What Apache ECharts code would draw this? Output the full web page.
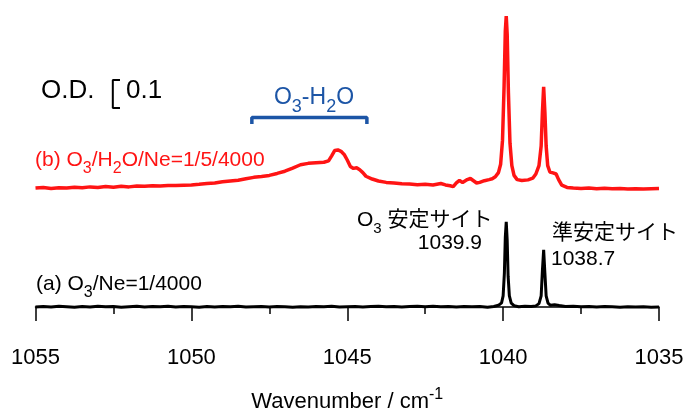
<!DOCTYPE html>
<html>
<head>
<meta charset="utf-8">
<script src="https://cdn.jsdelivr.net/npm/echarts@6/dist/echarts.min.js"></script>
<style>
html,body{margin:0;padding:0;background:#fff;}
#chart{width:686px;height:410px;}
</style>
</head>
<body>
<div id="chart"></div>
<script>
// ---- data ----
const xTicks = [1055, 1050, 1045, 1040, 1035];
const peakLabels = ['1039.9', '1038.7'];
const redOffset = 0.425;
// (a) O3/Ne = 1/4000  [wavenumber, O.D.]
const spectrumA = [
[1055.0,0.000],[1054.75,0.002],[1054.5,0.000],[1054.25,0.003],[1054.0,0.001],[1053.75,-0.001],
[1053.5,0.002],[1053.25,0.000],[1053.0,0.003],[1052.75,0.001],[1052.5,0.002],[1052.25,-0.001],
[1052.0,0.001],[1051.75,0.003],[1051.5,0.000],[1051.25,0.002],[1051.0,0.001],[1050.75,0.003],
[1050.5,0.000],[1050.25,0.002],[1050.0,0.001],[1049.75,-0.001],[1049.5,0.002],[1049.25,0.000],
[1049.0,0.002],[1048.75,0.001],[1048.5,0.003],[1048.25,0.000],[1048.0,0.001],[1047.75,0.002],
[1047.5,0.000],[1047.25,0.002],[1047.0,0.001],[1046.75,-0.001],[1046.5,0.001],[1046.25,0.000],
[1046.0,0.002],[1045.75,0.001],[1045.5,0.003],[1045.25,0.000],[1045.0,0.001],[1044.75,0.002],
[1044.5,0.000],[1044.25,0.002],[1044.0,0.003],[1043.75,0.001],[1043.5,0.002],[1043.25,0.000],
[1043.0,0.002],[1042.75,0.003],[1042.5,0.001],[1042.25,0.003],[1042.0,0.001],[1041.75,0.002],
[1041.5,0.000],[1041.25,0.002],[1041.0,0.001],[1040.75,0.002],[1040.5,-0.001],[1040.3,0.002],
[1040.15,0.006],[1040.05,0.015],[1040.0,0.04],[1039.96,0.12],[1039.93,0.25],[1039.9,0.304],
[1039.87,0.24],[1039.84,0.11],[1039.8,0.04],[1039.74,0.014],[1039.65,0.005],[1039.5,0.001],
[1039.3,0.003],[1039.1,0.002],[1038.95,0.004],[1038.85,0.012],[1038.78,0.04],[1038.74,0.13],
[1038.7,0.204],[1038.66,0.12],[1038.62,0.04],[1038.56,0.014],[1038.48,0.006],[1038.35,0.008],
[1038.2,0.005],[1038.0,0.002],[1037.75,0.003],[1037.5,0.001],[1037.25,0.002],[1037.0,0.000],
[1036.75,0.002],[1036.5,0.001],[1036.25,-0.001],[1036.0,0.001],[1035.75,0.000],[1035.5,0.001],
[1035.25,-0.001],[1035.0,0.000]
];
// (b) O3/H2O/Ne = 1/5/4000  [wavenumber, O.D.]
const spectrumB = [
[1055.0,0.000],[1054.75,0.002],[1054.5,-0.002],[1054.25,0.001],[1054.0,0.000],[1053.75,0.003],
[1053.5,0.001],[1053.25,0.004],[1053.0,0.002],[1052.75,0.005],[1052.5,0.003],[1052.25,0.006],
[1052.0,0.004],[1051.75,0.007],[1051.5,0.006],[1051.25,0.008],[1051.0,0.007],[1050.75,0.009],
[1050.5,0.009],[1050.25,0.010],[1050.0,0.011],[1049.75,0.013],[1049.5,0.016],[1049.25,0.018],
[1049.0,0.022],[1048.75,0.025],[1048.5,0.028],[1048.25,0.033],[1048.0,0.038],[1047.75,0.041],
[1047.5,0.045],[1047.25,0.052],[1047.0,0.060],[1046.75,0.071],[1046.5,0.083],[1046.25,0.088],
[1046.0,0.090],[1045.75,0.092],[1045.6,0.097],[1045.5,0.115],[1045.4,0.134],[1045.3,0.136],
[1045.2,0.131],[1045.1,0.120],[1045.0,0.100],[1044.9,0.077],[1044.8,0.070],[1044.7,0.072],
[1044.6,0.065],[1044.5,0.055],[1044.4,0.042],[1044.2,0.032],[1044.0,0.025],[1043.75,0.020],
[1043.5,0.018],[1043.25,0.015],[1043.0,0.014],[1042.75,0.012],[1042.5,0.013],[1042.25,0.011],
[1042.0,0.016],[1041.85,0.011],[1041.7,0.008],[1041.6,0.005],[1041.5,0.018],[1041.4,0.027],
[1041.3,0.020],[1041.15,0.030],[1041.05,0.034],[1040.95,0.026],[1040.85,0.018],[1040.75,0.020],
[1040.6,0.026],[1040.45,0.030],[1040.35,0.033],[1040.25,0.040],[1040.15,0.055],[1040.08,0.085],
[1040.02,0.17],[1039.97,0.36],[1039.93,0.56],[1039.9,0.614],[1039.87,0.55],[1039.83,0.34],
[1039.78,0.16],[1039.72,0.08],[1039.65,0.045],[1039.55,0.030],[1039.4,0.027],[1039.2,0.029],
[1039.05,0.035],[1038.95,0.05],[1038.85,0.08],[1038.78,0.15],[1038.74,0.27],[1038.7,0.361],
[1038.66,0.27],[1038.62,0.15],[1038.57,0.08],[1038.5,0.057],[1038.4,0.054],[1038.3,0.050],
[1038.22,0.030],[1038.12,0.010],[1037.95,0.002],[1037.75,0.000],[1037.5,-0.002],[1037.25,0.000],
[1037.0,-0.003],[1036.75,-0.001],[1036.5,-0.003],[1036.25,-0.002],[1036.0,-0.004],[1035.75,-0.003],
[1035.5,-0.004],[1035.25,-0.003],[1035.0,-0.002]
];
// O.D. scale bar (0.1) and O3-H2O band range
const odScaleWn = [1052.29, 1052.52];
const odScaleBase = 0.711;
const odScaleSize = 0.1;
const bandRange = [1048.06, 1044.37];
const bandLevel = 0.677;
const bandTick = 0.023;

// ---- chart ----
const FONT = "'Liberation Sans', Arial, 'Noto Sans CJK JP', sans-serif";
const chart = echarts.init(document.getElementById('chart'), null, {renderer: 'canvas'});
const redData = spectrumB.map(p => [p[0], p[1] + redOffset]);
const scaleBar = [
  [odScaleWn[0], odScaleBase + odScaleSize], [odScaleWn[1], odScaleBase + odScaleSize],
  [odScaleWn[1], odScaleBase], [odScaleWn[0], odScaleBase]
];
const bandBar = [
  [bandRange[0], bandLevel - bandTick], [bandRange[0], bandLevel],
  [bandRange[1], bandLevel], [bandRange[1], bandLevel - bandTick]
];

function richText(x, y, parts, size, color, align, subSize) {
  const rich = {
    m: {fontSize: size, fontFamily: FONT, color: color},
    s: {fontSize: subSize || Math.round(size * 0.78), fontFamily: FONT, color: color, padding: [Math.round(size * 0.8), 0, 0, 0]}
  };
  return {
    type: 'text', x: x, y: y,
    style: {
      text: parts, rich: rich, align: align || 'left', verticalAlign: 'middle',
      fontSize: size, fontFamily: FONT, fill: color
    }
  };
}

chart.setOption({
  animation: false,
  backgroundColor: '#fff',
  grid: {left: 35.5, right: 27, top: 13, bottom: 89, outerBoundsMode: 'none', containLabel: false},
  xAxis: {
    type: 'value', inverse: true, min: 1035, max: 1055, interval: 5,
    axisLine: {lineStyle: {color: '#000', width: 1.5}},
    axisTick: {show: true, length: 14, lineStyle: {color: '#000', width: 1.5}},
    minorTick: {show: true, splitNumber: 2, length: 7, lineStyle: {color: '#000', width: 1.5}},
    splitLine: {show: false},
    axisLabel: {
      fontSize: 22, fontFamily: FONT, color: '#000', margin: 26,
      formatter: v => (xTicks.indexOf(v) >= 0 ? String(v) : '')
    },
    name: '{m|Wavenumber / cm}{p|-1}',
    nameLocation: 'middle', nameGap: 66,
    nameTextStyle: {
      rich: {
        m: {fontSize: 22, fontFamily: FONT, color: '#000'},
        p: {fontSize: 16, fontFamily: FONT, color: '#000', padding: [0, 0, 13, 0]}
      }
    }
  },
  yAxis: {type: 'value', min: -0.05, max: 1.05, show: false},
  series: [
    {type: 'line', data: spectrumA, showSymbol: false, symbol: 'none', lineStyle: {color: '#000', width: 3}, z: 3},
    {type: 'line', data: redData, showSymbol: false, symbol: 'none', lineStyle: {color: '#ff1414', width: 3.5}, z: 3},
    {type: 'line', data: scaleBar, showSymbol: false, symbol: 'none', lineStyle: {color: '#000', width: 2}},
    {type: 'line', data: bandBar, showSymbol: false, symbol: 'none', lineStyle: {color: '#1c55a6', width: 3.5}}
  ],
  graphic: [
    richText(41, 91, '{m|O.D.}', 26, '#000'),
    richText(126, 91, '{m|0.1}', 26, '#000'),
    richText(314, 98, '{m|O}{s|3}{m|-H}{s|2}{m|O}', 23, '#1c55a6', 'center', 18),
    richText(35, 160, '{m|(b) O}{s|3}{m|/H}{s|2}{m|O/Ne=1/5/4000}', 21, '#ff1414', 'left', 16),
    richText(36, 284, '{m|(a) O}{s|3}{m|/Ne=1/4000}', 21, '#000', 'left', 16),
    richText(357, 220, '{m|O}{s|3}{m| 安定サイト}', 21, '#000', 'left', 15),
    richText(482, 243, '{m|' + peakLabels[0] + '}', 21, '#000', 'right'),
    richText(552, 233, '{m|準安定サイト}', 21, '#000'),
    richText(551, 259, '{m|' + peakLabels[1] + '}', 21, '#000')
  ]
});
</script>
</body>
</html>
